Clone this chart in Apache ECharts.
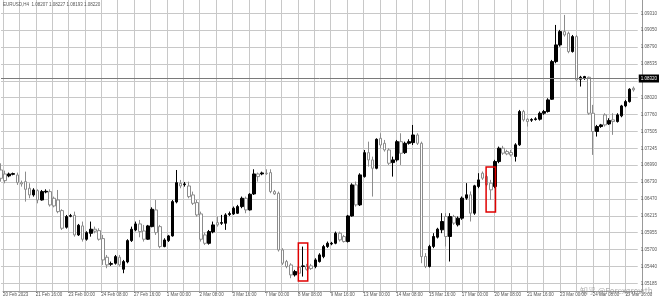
<!DOCTYPE html>
<html><head><meta charset="utf-8">
<script src="https://cdn.jsdelivr.net/npm/echarts@6/dist/echarts.min.js"></script>
<style>html,body{margin:0;padding:0;background:#fff}#c{width:660px;height:300px}</style>
</head><body><div id="c"></div>
<script>
const header = 'EURUSD,H4  1.08207 1.08227 1.08193 1.08220';
const watermark = '知乎 @Forexgrowth';
const xTickLabels = ['20 Feb 2023','21 Feb 16:00','23 Feb 00:00','24 Feb 08:00','27 Feb 16:00','1 Mar 00:00','2 Mar 08:00','3 Mar 16:00','7 Mar 00:00','8 Mar 08:00','9 Mar 16:00','13 Mar 00:00','14 Mar 08:00','15 Mar 16:00','17 Mar 00:00','20 Mar 08:00','21 Mar 16:00','23 Mar 00:00','24 Mar 08:00','27 Mar 16:00'];
const yTickLabels = ['1.05185','1.05440','1.05700','1.05955','1.06215','1.06470','1.06730','1.06990','1.07245','1.07505','1.07760','1.08020','','1.08535','1.08790','1.09050','1.09310'];
const priceLine = 1.08320;

const opens = [1.06916,1.06855,1.06825,1.06850,1.06840,1.06723,1.06738,1.06637,1.06535,1.06601,
1.06458,1.06580,1.06586,1.06484,1.06458,1.06296,1.06041,1.06209,1.06224,1.05924,
1.06062,1.05858,1.05949,1.06011,1.05990,1.05868,1.05583,1.05476,1.05491,1.05583,
1.05400,1.05512,1.05837,1.06000,1.06092,1.05985,1.05858,1.06051,1.06306,1.06051,
1.05746,1.05837,1.05909,1.06428,1.06713,1.06693,1.06672,1.06535,1.06418,1.06245,
1.05924,1.05796,1.05970,1.06112,1.06102,1.06102,1.06235,1.06245,1.06255,1.06357,
1.06484,1.06306,1.06550,1.06856,1.06856,1.06866,1.06876,1.06586,1.06561,1.05695,
1.05517,1.05466,1.05313,1.05431,1.05441,1.05441,1.05451,1.05441,1.05517,1.05593,
1.05746,1.05787,1.05797,1.05950,1.05899,1.05823,1.06214,1.06688,1.06383,1.06815,
1.07181,1.07070,1.06942,1.07400,1.07324,1.07222,1.07029,1.07070,1.07349,1.07181,
1.07324,1.07334,1.07451,1.07324,1.05595,1.05442,1.05748,1.05890,1.06002,1.06206,
1.05900,1.06206,1.06078,1.06180,1.06486,1.06537,1.06256,1.06664,1.06867,1.06816,
1.06715,1.06664,1.07045,1.07249,1.07198,1.07183,1.07122,1.07300,1.07809,1.07692,
1.07677,1.07687,1.07692,1.07783,1.07809,1.07997,1.08572,1.08827,1.09030,1.09005,
1.08725,1.08954,1.08303,1.08318,1.08333,1.07783,1.07504,1.07580,1.07758,1.07620,
1.07682,1.07656,1.07743,1.07895,1.07961,1.08165];
const closes = [1.06789,1.06754,1.06855,1.06861,1.06723,1.06703,1.06621,1.06535,1.06611,1.06458,
1.06586,1.06591,1.06382,1.06367,1.06280,1.06026,1.06204,1.06219,1.05924,1.06072,
1.05858,1.05959,1.06011,1.05980,1.05858,1.05542,1.05466,1.05486,1.05593,1.05466,
1.05517,1.05837,1.06011,1.06092,1.05975,1.05858,1.06062,1.06316,1.05959,1.05746,
1.05847,1.05909,1.06433,1.06723,1.06672,1.06703,1.06509,1.06407,1.06229,1.05858,
1.05796,1.05975,1.06077,1.06077,1.06112,1.06230,1.06250,1.06332,1.06357,1.06484,
1.06306,1.06545,1.06856,1.06815,1.06871,1.06861,1.06586,1.06550,1.05695,1.05492,
1.05441,1.05313,1.05364,1.05339,1.05451,1.05400,1.05410,1.05542,1.05619,1.05746,
1.05797,1.05797,1.05950,1.05848,1.05823,1.06214,1.06688,1.06383,1.06841,1.07181,
1.07070,1.06942,1.07385,1.07298,1.07222,1.07019,1.07070,1.07349,1.07171,1.07324,
1.07349,1.07451,1.07324,1.05593,1.05442,1.05748,1.05900,1.06012,1.06129,1.05900,
1.06206,1.06104,1.06180,1.06486,1.06537,1.06256,1.06674,1.06765,1.06791,1.06689,
1.06613,1.07045,1.07249,1.07173,1.07162,1.07147,1.07300,1.07809,1.07682,1.07656,
1.07687,1.07697,1.07783,1.07809,1.07987,1.08572,1.08827,1.09030,1.08979,1.08725,
1.08954,1.08292,1.08333,1.08343,1.07783,1.07504,1.07580,1.07605,1.07605,1.07671,
1.07656,1.07758,1.07895,1.07961,1.08150,1.08140];
const lows = [1.06738,1.06713,1.06805,1.06835,1.06688,1.06662,1.06433,1.06484,1.06509,1.06407,
1.06448,1.06560,1.06357,1.06346,1.06255,1.06000,1.06021,1.06194,1.05898,1.05909,
1.05822,1.05837,1.05898,1.05949,1.05837,1.05466,1.05415,1.05451,1.05471,1.05440,
1.05339,1.05491,1.05817,1.05980,1.05888,1.05822,1.05847,1.06041,1.05924,1.05720,
1.05736,1.05817,1.05898,1.06407,1.06637,1.06662,1.06484,1.06382,1.06204,1.05822,
1.05771,1.05776,1.05949,1.06051,1.06077,1.06001,1.06214,1.06230,1.06245,1.06332,
1.06255,1.06296,1.06535,1.06739,1.06836,1.06841,1.06561,1.06535,1.05670,1.05466,
1.05415,1.05263,1.05288,1.05313,1.05288,1.05380,1.05390,1.05415,1.05502,1.05568,
1.05726,1.05767,1.05782,1.05823,1.05808,1.05808,1.06204,1.06357,1.06367,1.06800,
1.06968,1.06510,1.06927,1.07248,1.07197,1.06993,1.06815,1.07044,1.06993,1.07161,
1.07304,1.07298,1.07298,1.05492,1.05417,1.05427,1.05722,1.05870,1.05951,1.05748,
1.05518,1.06078,1.06053,1.06155,1.06460,1.06129,1.06231,1.06638,1.06765,1.06664,
1.06460,1.06638,1.07020,1.07147,1.07142,1.07122,1.07045,1.07285,1.07656,1.07580,
1.07651,1.07671,1.07671,1.07758,1.07793,1.07987,1.08547,1.08801,1.08954,1.08700,
1.08710,1.08267,1.08191,1.08292,1.07758,1.07147,1.07427,1.07560,1.07580,1.07605,
1.07453,1.07641,1.07722,1.07875,1.07946,1.08114];
const highs = [1.07018,1.06906,1.06876,1.06876,1.06876,1.06754,1.06891,1.06713,1.06637,1.06621,
1.06611,1.06621,1.06621,1.06509,1.06611,1.06316,1.06229,1.06245,1.06280,1.06092,
1.06128,1.05980,1.06128,1.06051,1.06026,1.05924,1.05618,1.05517,1.05618,1.05618,
1.05542,1.05858,1.06051,1.06128,1.06153,1.06077,1.06077,1.06346,1.06458,1.06077,
1.05873,1.05924,1.06458,1.06916,1.06764,1.06733,1.06738,1.06586,1.06458,1.06280,
1.05959,1.06000,1.06128,1.06204,1.06230,1.06255,1.06281,1.06357,1.06383,1.06510,
1.06510,1.06561,1.06927,1.06876,1.06891,1.06927,1.06927,1.06611,1.06586,1.05721,
1.05542,1.05492,1.05390,1.05466,1.05746,1.05482,1.05482,1.05568,1.05644,1.05772,
1.05823,1.05818,1.05975,1.05975,1.05924,1.06230,1.06713,1.06739,1.06866,1.07222,
1.07349,1.07120,1.07400,1.07477,1.07375,1.07248,1.07120,1.07375,1.07477,1.07349,
1.07385,1.07604,1.07477,1.07349,1.05646,1.05773,1.05951,1.06033,1.06256,1.06256,
1.06256,1.06231,1.06206,1.06511,1.06715,1.06588,1.06689,1.06867,1.06893,1.06842,
1.06765,1.07071,1.07274,1.07285,1.07224,1.07224,1.07325,1.07834,1.07834,1.07707,
1.07707,1.07722,1.07809,1.07834,1.08012,1.08598,1.09132,1.09056,1.09285,1.09030,
1.08979,1.08979,1.08354,1.08354,1.08343,1.07911,1.07605,1.07620,1.07783,1.07707,
1.07783,1.07783,1.07911,1.07987,1.08165,1.08191];

const boxBars = [74, 120];
const boxLows = [1.05221, 1.06275];
const boxHighs = [1.05801, 1.06962];

const yStep = 1.05185 / 408;
const yMin = 408 * yStep;
const yMax = 424 * yStep;

const cats = Array.from({length: opens.length + 1}, (_, i) => String(i));
const candles = opens.map((o, i) => [o, closes[i], lows[i], highs[i]]);
const FONT = 'Liberation Sans';
const gridColor = '#c8c8c8';

const chart = echarts.init(document.getElementById('c'), null, {renderer: 'canvas'});
chart.setOption({
  animation: false,
  backgroundColor: '#fff',
  graphic: [
    {type: 'text', left: 3, top: 2, z: 10, style: {text: header, fontSize: 4.5, fontFamily: FONT, fill: '#555'}},
    {type: 'text', left: 580, top: 287, z: 10, style: {text: watermark, fontSize: 8, fontFamily: 'Noto Sans CJK SC', fill: 'rgba(110,110,110,0.55)'}}
  ],
  grid: [
    {left: 1, right: 18, top: 0, bottom: 9},
    {left: 1, right: 18, top: 13.3, bottom: 16.7}
  ],
  xAxis: [
    {type: 'category', gridIndex: 0, data: cats, boundaryGap: false,
     axisLine: {show: true, lineStyle: {color: '#999', width: 1}},
     axisTick: {show: true, interval: 7, length: 2, lineStyle: {color: '#999'}},
     axisLabel: {show: true, interval: 7, align: 'left', margin: 1.5, fontSize: 4.5, fontFamily: FONT, color: '#555',
       formatter: (v, i) => (i % 8 === 0 ? (xTickLabels[i / 8] || '') : '')},
     splitLine: {show: true, interval: 3, lineStyle: {color: gridColor, width: 1}}},
    {type: 'category', gridIndex: 1, data: cats, boundaryGap: false, show: false}
  ],
  yAxis: [
    {type: 'value', gridIndex: 0, position: 'right', min: 0, max: 1,
     axisLine: {show: true, lineStyle: {color: '#999'}}, axisTick: {show: false},
     axisLabel: {show: false}, splitLine: {show: false}},
    {type: 'value', gridIndex: 1, position: 'right', min: yMin, max: yMax, interval: yStep,
     axisLine: {show: false}, axisTick: {show: false},
     axisLabel: {show: true, margin: 3, fontSize: 4.5, fontFamily: FONT, color: '#555',
       formatter: v => {
         const k = Math.round((v - yMin) / yStep);
         return Math.abs(v - (yMin + k * yStep)) < yStep * 0.05 ? (yTickLabels[k] || '') : '';
       }},
     splitLine: {show: true, lineStyle: {color: gridColor, width: 1}}}
  ],
  series: [
    {type: 'candlestick', xAxisIndex: 1, yAxisIndex: 1, data: candles, barWidth: 3, clip: false,
     itemStyle: {color: '#000', color0: '#fff', borderColor: '#000', borderColor0: '#8c8c8c', borderWidth: 1}},
    {type: 'custom', xAxisIndex: 1, yAxisIndex: 1, clip: false, z: 4,
     data: [[0, priceLine]],
     encode: {x: 0, y: 1},
     renderItem: (params, api) => {
       const p = api.coord([api.value(0), api.value(1)]);
       const cs = params.coordSys;
       const y = Math.round(p[1]) + 0.5;
       return {type: 'group', children: [
         {type: 'line', shape: {x1: cs.x, y1: y, x2: cs.x + cs.width, y2: y},
          style: {stroke: '#7a7a7a', lineWidth: 1}},
         {type: 'text', x: cs.x + cs.width + 1, y: y,
          style: {text: priceLine.toFixed(5), fill: '#fff', backgroundColor: '#000', padding: [1.5, 2, 1.5, 2],
            fontSize: 4.5, fontFamily: FONT, verticalAlign: 'middle', align: 'left'}}
       ]};
     }},
    {type: 'custom', xAxisIndex: 1, yAxisIndex: 1, clip: false, z: 5,
     data: boxBars.map((b, i) => [b, boxLows[i], boxHighs[i]]),
     encode: {x: 0, y: [1, 2]},
     renderItem: (params, api) => {
       const top = api.coord([api.value(0), api.value(2)]);
       const bot = api.coord([api.value(0), api.value(1)]);
       const hw = api.size([1, 0])[0] * 1.15;
       return {type: 'rect', shape: {x: top[0] - hw, y: top[1], width: 2 * hw, height: bot[1] - top[1]},
         style: {fill: 'none', stroke: '#e00000', lineWidth: 1.5}};
     }}
  ]
});
</script></body></html>
